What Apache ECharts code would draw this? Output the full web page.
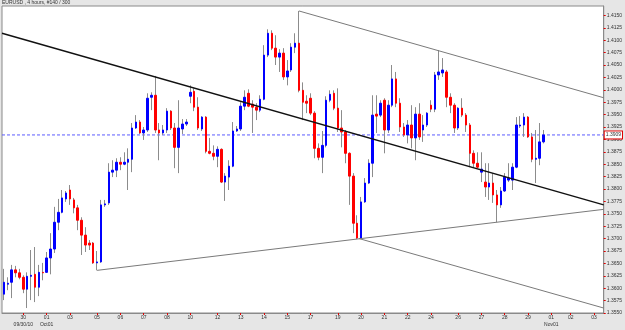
<!DOCTYPE html>
<html>
<head>
<meta charset="utf-8">
<script src="https://cdn.jsdelivr.net/npm/echarts@6/dist/echarts.min.js"></script>
<style>
html,body{margin:0;padding:0;background:#e6e6e6;}
#c{width:625px;height:330px;}
</style>
</head>
<body>
<div id="c"></div>
<script>
const opens = [
1.3588,1.3608,1.3612,1.3637,1.3631,1.3622,1.3598,1.3624,1.3628,1.3602,
1.3632,1.3632,1.3661,1.3679,1.3733,1.3753,1.3780,1.3798,1.3778,1.3762,
1.3737,1.3707,1.3691,1.3691,1.3651,1.3653,1.3768,1.3772,1.3834,1.3838,
1.3854,1.3850,1.3854,1.3860,1.3923,1.3935,1.3913,1.3919,1.3985,1.3989,
1.3919,1.3913,1.3919,1.3957,1.3923,1.3884,1.3921,1.3931,1.3987,1.3997,
1.3965,1.3921,1.3945,1.3876,1.3872,1.3866,1.3880,1.3814,1.3824,1.3846,
1.3917,1.3921,1.3967,1.3993,1.3971,1.3965,1.3959,1.3981,1.4070,1.4114,
1.4084,1.4066,1.4074,1.4026,1.4040,1.4086,1.4094,1.3999,1.3977,1.3983,
1.3953,1.3882,1.3864,1.3888,1.3979,1.3993,1.3963,1.3923,1.3915,1.3872,
1.3826,1.3731,1.3701,1.3774,1.3812,1.3852,1.3951,1.3949,1.3979,1.3919,
1.3969,1.4022,1.3973,1.3925,1.3909,1.3929,1.3903,1.3951,1.3919,1.3929,
1.3969,1.3961,1.4030,1.4034,1.4036,1.3985,1.3969,1.3923,1.3963,1.3949,
1.3929,1.3872,1.3852,1.3834,1.3814,1.3804,1.3812,1.3788,1.3768,1.3796,
1.3818,1.3818,1.3844,1.3927,1.3929,1.3945,1.3905,1.3860,1.3862,1.3895];
const closes = [
1.3612,1.3610,1.3637,1.3631,1.3622,1.3598,1.3624,1.3626,1.3602,1.3632,
1.3631,1.3661,1.3679,1.3733,1.3753,1.3782,1.3792,1.3780,1.3762,1.3737,
1.3707,1.3687,1.3687,1.3651,1.3653,1.3768,1.3770,1.3834,1.3838,1.3854,
1.3850,1.3854,1.3860,1.3923,1.3935,1.3913,1.3919,1.3983,1.3989,1.3919,
1.3913,1.3919,1.3957,1.3923,1.3884,1.3923,1.3931,1.3935,1.3995,1.3965,
1.3923,1.3945,1.3876,1.3872,1.3866,1.3880,1.3814,1.3826,1.3846,1.3917,
1.3921,1.3967,1.3985,1.3967,1.3965,1.3959,1.3981,1.4070,1.4114,1.4084,
1.4066,1.4074,1.4026,1.4038,1.4086,1.4094,1.3999,1.3975,1.3973,1.3953,
1.3882,1.3864,1.3888,1.3979,1.3991,1.3963,1.3923,1.3915,1.3872,1.3826,
1.3731,1.3701,1.3774,1.3812,1.3852,1.3949,1.3947,1.3973,1.3919,1.3969,
1.4022,1.3973,1.3925,1.3909,1.3929,1.3903,1.3951,1.3905,1.3929,1.3953,
1.3961,1.4030,1.4036,1.4040,1.3985,1.3969,1.3923,1.3963,1.3949,1.3929,
1.3872,1.3852,1.3844,1.3840,1.3804,1.3812,1.3788,1.3768,1.3796,1.3824,
1.3822,1.3844,1.3929,1.3929,1.3945,1.3905,1.3860,1.3862,1.3895,1.3909];
const highs = [
1.3639,1.3622,1.3647,1.3645,1.3639,1.3626,1.3632,1.3677,1.3683,1.3647,
1.3651,1.3673,1.3711,1.3764,1.3780,1.3798,1.3796,1.3808,1.3782,1.3768,
1.3743,1.3723,1.3697,1.3693,1.3675,1.3778,1.3778,1.3852,1.3858,1.3862,
1.3864,1.3874,1.3882,1.3933,1.3949,1.3939,1.3925,1.3993,1.3995,1.4028,
1.3933,1.3929,1.3963,1.3959,1.3933,1.3979,1.3941,1.3941,1.4009,1.4003,
1.3985,1.3947,1.3947,1.3903,1.3888,1.3886,1.3882,1.3832,1.3858,1.3935,
1.3927,1.3975,1.3999,1.4001,1.3979,1.3973,1.3989,1.4090,1.4122,1.4120,
1.4110,1.4082,1.4084,1.4060,1.4094,1.4114,1.4159,1.4015,1.3989,1.3993,
1.3957,1.3892,1.3917,1.3987,1.3999,1.3999,1.4003,1.3959,1.3919,1.3874,
1.3832,1.3747,1.3784,1.3822,1.3860,1.3989,1.3989,1.3979,1.3983,1.3979,
1.4050,1.4036,1.3983,1.3933,1.3939,1.3969,1.3965,1.3973,1.3949,1.3955,
1.3979,1.4036,1.4080,1.4064,1.4040,1.3993,1.3973,1.3965,1.3983,1.3953,
1.3933,1.3878,1.3874,1.3874,1.3852,1.3852,1.3832,1.3798,1.3804,1.3832,
1.3852,1.3852,1.3945,1.3947,1.3953,1.3947,1.3913,1.3919,1.3933,1.3919];
const lows = [
1.3576,1.3596,1.3580,1.3622,1.3618,1.3590,1.3560,1.3576,1.3572,1.3584,
1.3616,1.3631,1.3628,1.3671,1.3717,1.3751,1.3774,1.3768,1.3751,1.3717,
1.3667,1.3673,1.3677,1.3649,1.3636,1.3651,1.3764,1.3768,1.3824,1.3824,
1.3838,1.3848,1.3798,1.3834,1.3921,1.3911,1.3899,1.3915,1.3959,1.3913,
1.3858,1.3909,1.3913,1.3919,1.3842,1.3832,1.3911,1.3927,1.3973,1.3957,
1.3919,1.3917,1.3872,1.3870,1.3858,1.3844,1.3812,1.3776,1.3798,1.3844,
1.3915,1.3917,1.3959,1.3965,1.3913,1.3939,1.3955,1.3979,1.4066,1.4080,
1.4050,1.4036,1.4020,1.4009,1.4036,1.4074,1.3995,1.3939,1.3953,1.3949,
1.3862,1.3858,1.3832,1.3884,1.3975,1.3959,1.3915,1.3884,1.3852,1.3768,
1.3711,1.3699,1.3699,1.3772,1.3810,1.3824,1.3913,1.3945,1.3872,1.3913,
1.3965,1.3965,1.3915,1.3905,1.3892,1.3882,1.3858,1.3899,1.3895,1.3925,
1.3955,1.3955,1.4020,1.4026,1.3965,1.3953,1.3913,1.3919,1.3945,1.3915,
1.3844,1.3844,1.3842,1.3814,1.3784,1.3778,1.3772,1.3733,1.3762,1.3794,
1.3814,1.3798,1.3842,1.3923,1.3905,1.3903,1.3854,1.3812,1.3848,1.3892];

// slots on the time axis (bars + empty space to the right)
const slotCount = 155;
const tickIndex = [5,11,17,24,30,36,42,48,55,61,67,73,79,86,92,98,104,110,117,123,129,135,141,146,152];
const tickLabels = ['30\n09/30/10','01\nOct01','03','05','06','07','08','10','12','13','14','15','17','19','20','21','22','24','26','27','28','29','01\nNov01','02','03'];
const priceTicks = {min:1.3550, max:1.4169, step:0.0025};

// drawn trend lines: [barIndex, price] endpoints
const mainTrend = [[-0.5,1.4114],[154.5,1.3768]];
const upperChannel = [[76,1.4159],[154.5,1.3984]];
const lowerChannel = [[91.5,1.3700],[154.5,1.3560]];
const supportLine = [[24,1.3636],[154.5,1.3759]];

const titleText = 'EURUSD , 4 hours, #140 / 300';

const cats = Array.from({length:slotCount},(_,i)=>String(i));
const wickData = opens.map((o,i)=>[o,closes[i],lows[i],highs[i]]);
const bodyData = opens.map((o,i)=>[o,closes[i],Math.min(o,closes[i]),Math.max(o,closes[i])]);
const tickSet = new Map(tickIndex.map((k,j)=>[k,tickLabels[j]]));
const lastClose = closes[closes.length-1];
const priceLine = [[-0.5,lastClose],[slotCount-0.5,lastClose]];

const chart = echarts.init(document.getElementById('c'),null,{renderer:'canvas'});
const lineSeries = (d,color,w)=>({type:'line',xAxisIndex:1,yAxisIndex:0,data:d,symbol:'none',silent:true,
  lineStyle:{color:color,width:w},z:5});
chart.setOption({
  animation:false,
  backgroundColor:'#e6e6e6',
  textStyle:{fontFamily:'Liberation Sans, Arial, sans-serif'},
  graphic:[{type:'text',left:2,top:0,style:{text:titleText,fontSize:5,fill:'#333',fontFamily:'Liberation Sans'}}],
  grid:{left:2,right:21,top:6,bottom:17,show:true,backgroundColor:'#ffffff',borderColor:'#8a8a8a',borderWidth:1},
  xAxis:[{
    type:'category',data:cats,boundaryGap:true,
    axisLine:{onZero:false,lineStyle:{color:'#8a8a8a'}},
    axisTick:{show:true,alignWithLabel:true,length:2,interval:(i)=>tickSet.has(i),lineStyle:{color:'#e00000'}},
    axisLabel:{interval:(i)=>tickSet.has(i),formatter:(v,i)=>tickSet.get(i)||'',fontSize:5,lineHeight:7,margin:1,color:'#333'},
    splitLine:{show:false}
  },{
    type:'value',min:-0.5,max:slotCount-0.5,show:false,axisLine:{onZero:false}
  }],
  yAxis:[{
    type:'value',position:'right',min:priceTicks.min,max:priceTicks.max,interval:priceTicks.step,scale:true,
    axisLine:{show:true,onZero:false,lineStyle:{color:'#8a8a8a'}},
    axisTick:{show:true,length:2,lineStyle:{color:'#e00000'}},
    axisLabel:{formatter:(v)=>v.toFixed(4),fontSize:5,margin:3,color:'#333',showMaxLabel:false},
    splitLine:{show:false}
  }],
  series:[
    {type:'line',xAxisIndex:1,yAxisIndex:0,data:priceLine,symbol:'none',silent:true,z:1,
      lineStyle:{color:'#5c5cff',width:1,type:[3,2]},
      endLabel:{show:true,formatter:()=>lastClose.toFixed(4),fontSize:5,color:'#333',backgroundColor:'#ffffff',
        borderColor:'#e00000',borderWidth:1,padding:[1,1],distance:1}},
    {type:'candlestick',name:'wick',data:wickData,barWidth:1,silent:true,
      itemStyle:{color:'#8c8c8c',color0:'#8c8c8c',borderColor:'#8c8c8c',borderColor0:'#8c8c8c',borderWidth:1},z:2},
    {type:'candlestick',name:'body',data:bodyData,barWidth:2,silent:true,
      itemStyle:{color:'#0000ff',color0:'#ff0000',borderColor:'#0000ff',borderColor0:'#ff0000',borderWidth:1},z:3},
    lineSeries(mainTrend,'#111111',1.5),
    lineSeries(upperChannel,'#7a7a7a',1),
    lineSeries(lowerChannel,'#7a7a7a',1),
    lineSeries(supportLine,'#7a7a7a',1)
  ]
});
</script>
</body>
</html>
